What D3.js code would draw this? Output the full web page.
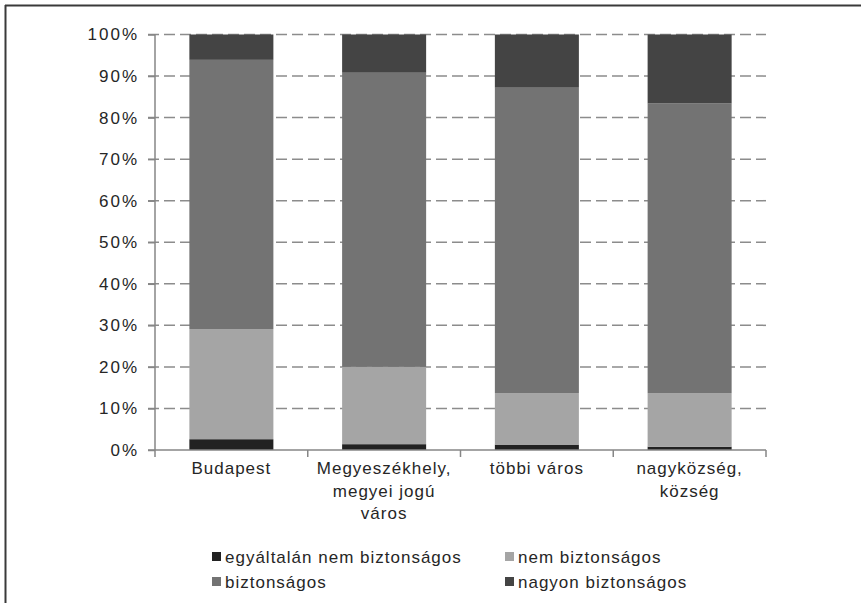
<!DOCTYPE html>
<html>
<head>
<meta charset="utf-8">
<script src="https://cdn.jsdelivr.net/npm/d3@7"></script>
<style>
  body { margin: 0; background: #fff; }
  svg text { font-family: "Liberation Sans", Arial, sans-serif; fill: #262626; }
</style>
</head>
<body>
<svg id="chart" width="861" height="603"></svg>
<script>
// categories (x axis), each label may be split over several lines
var categories = ['Budapest', 'Megyeszékhely, megyei jogú város', 'többi város', 'nagyközség, község'];
var categoryLines = [['Budapest'], ['Megyeszékhely,', 'megyei jogú', 'város'], ['többi város'], ['nagyközség,', 'község']];

// series, bottom to top (percent)
var seriesNames = ['egyáltalán nem biztonságos', 'nem biztonságos', 'biztonságos', 'nagyon biztonságos'];
var egyaltalanNem = [2.6, 1.4, 1.3, 0.8];
var nemBiztonsagos = [26.5, 18.6, 12.4, 12.9];
var biztonsagos = [64.8, 70.8, 73.5, 69.7];
var nagyonBiztonsagos = [6.1, 9.2, 12.8, 16.6];

var yTicks = [0, 10, 20, 30, 40, 50, 60, 70, 80, 90, 100];

var colors = ['#222222', '#a5a5a5', '#737373', '#444444'];

var svg = d3.select('#chart');

// outer frame (only top and left edges visible)
svg.append('line').attr('x1', 5.5).attr('y1', 5).attr('x2', 5.5).attr('y2', 603)
  .attr('stroke', '#3a3a3a').attr('stroke-width', 2);
svg.append('line').attr('x1', 5).attr('y1', 5.5).attr('x2', 861).attr('y2', 5.5)
  .attr('stroke', '#3a3a3a').attr('stroke-width', 2);

var margin = { left: 155, right: 766, top: 34.5, bottom: 450 };

var x = d3.scaleBand().domain(categories).range([margin.left, margin.right])
  .paddingInner(0.45).paddingOuter(0.225);
var xOuter = d3.scaleBand().domain(categories).range([margin.left, margin.right]);
var y = d3.scaleLinear().domain([0, 100]).range([margin.bottom, margin.top]);

// gridlines
svg.append('g').selectAll('line')
  .data(yTicks.filter(function (d) { return d > 0; })).enter()
  .append('line')
  .attr('x1', margin.left - 7).attr('x2', margin.right)
  .attr('y1', function (d) { return y(d); }).attr('y2', function (d) { return y(d); })
  .attr('stroke', '#8c8c8c').attr('stroke-width', 1.5)
  .attr('stroke-dasharray', '11,5');

// stacked bars
var table = categories.map(function (c, i) {
  return { cat: c, s0: egyaltalanNem[i], s1: nemBiztonsagos[i], s2: biztonsagos[i], s3: nagyonBiztonsagos[i] };
});
var stack = d3.stack().keys(['s0', 's1', 's2', 's3']);
var layers = stack(table);

svg.append('g').selectAll('g')
  .data(layers).enter()
  .append('g')
  .attr('fill', function (d, i) { return colors[i]; })
  .selectAll('rect')
  .data(function (d) { return d; }).enter()
  .append('rect')
  .attr('x', function (d) { return x(d.data.cat); })
  .attr('width', x.bandwidth())
  .attr('y', function (d) { return y(d[1]); })
  .attr('height', function (d) { return y(d[0]) - y(d[1]); });

// y axis
var yAxis = d3.axisLeft(y).tickValues(yTicks).tickSize(7).tickPadding(10)
  .tickFormat(function (d) { return d + '%'; });
var yG = svg.append('g').attr('transform', 'translate(' + margin.left + ',0)').call(yAxis);
yG.select('.domain').attr('stroke', '#868686').attr('stroke-width', 1.5)
  .attr('d', 'M0,' + margin.top + 'V' + (margin.bottom + 7));
yG.selectAll('.tick line').attr('stroke', '#868686').attr('stroke-width', 1.5).attr('x2', -7);
yG.selectAll('.tick text').attr('x', -16).style('font-size', '17px').style('letter-spacing', '2px')
  .attr('fill', '#262626');

// x axis
svg.append('line').attr('x1', margin.left - 7).attr('x2', margin.right)
  .attr('y1', margin.bottom).attr('y2', margin.bottom)
  .attr('stroke', '#868686').attr('stroke-width', 1.5);
svg.append('g').selectAll('line')
  .data(categories.slice(1).concat(['end'])).enter()
  .append('line')
  .attr('x1', function (d, i) { return margin.left + (i + 1) * xOuter.step(); })
  .attr('x2', function (d, i) { return margin.left + (i + 1) * xOuter.step(); })
  .attr('y1', margin.bottom).attr('y2', margin.bottom + 7)
  .attr('stroke', '#868686').attr('stroke-width', 1.5);

var xLabels = svg.append('g').selectAll('text')
  .data(categories).enter()
  .append('text')
  .attr('text-anchor', 'middle')
  .attr('x', function (d) { return x(d) + x.bandwidth() / 2; })
  .attr('y', 474)
  .style('font-size', '17px').style('letter-spacing', '1px');
xLabels.each(function (d, i) {
  var t = d3.select(this);
  categoryLines[i].forEach(function (line, j) {
    t.append('tspan').attr('x', x(d) + x.bandwidth() / 2).attr('dy', j === 0 ? 0 : 22.5).text(line);
  });
});

// legend
var legendPos = [[212, 552], [505, 552], [212, 577], [505, 577]];
var legend = svg.append('g').selectAll('g')
  .data(seriesNames).enter()
  .append('g')
  .attr('transform', function (d, i) { return 'translate(' + legendPos[i][0] + ',' + legendPos[i][1] + ')'; });
legend.append('rect').attr('width', 9).attr('height', 9)
  .attr('fill', function (d, i) { return colors[i]; });
legend.append('text').attr('x', 13).attr('y', 10.5)
  .style('font-size', '17px').style('letter-spacing', '1px')
  .text(function (d) { return d; });
</script>
</body>
</html>
